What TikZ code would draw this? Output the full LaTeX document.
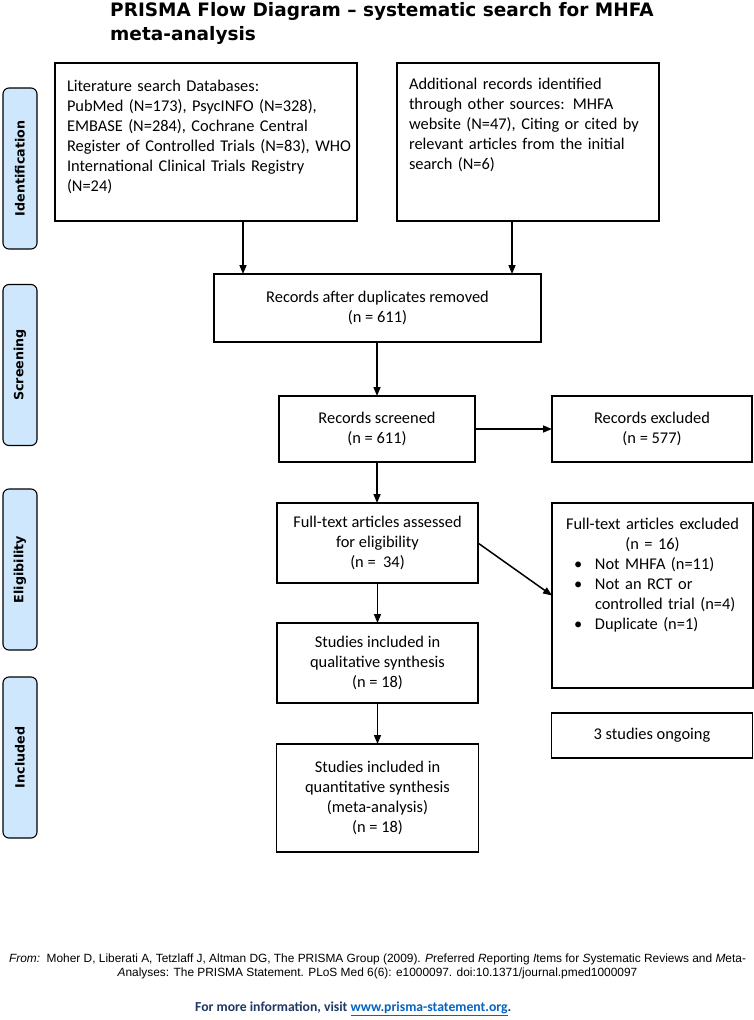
\documentclass[tikz,border=0pt]{standalone}
\usepackage{fontspec}
\setmainfont{Carlito}
\newfontfamily\titlefont{DejaVu Sans}
\newfontfamily\reffont{Liberation Sans}
\usetikzlibrary{arrows.meta}
\definecolor{phasefill}{RGB}{207,231,252}
\definecolor{navytext}{RGB}{31,56,100}
\definecolor{linkblue}{RGB}{5,99,193}
\newcommand{\bodyfont}{\fontsize{16.4}{20}\selectfont}
\begin{document}
\begin{tikzpicture}[x=1pt,y=-1pt,
  box/.style={draw=black, line width=1.3pt, inner sep=0pt, outer sep=0pt, align=center, font=\bodyfont},
  txt/.style={inner sep=0pt, outer sep=0pt, font=\bodyfont},
  phasebox/.style={draw=black, line width=1.1pt, fill=phasefill, rounded corners=6pt, rotate=90,
     minimum width=161pt, minimum height=34pt, inner sep=0pt, outer sep=0pt,
     font=\titlefont\bfseries\fontsize{12.7}{14}\selectfont},
  arr/.style={-{Triangle[length=9pt,width=7pt]}, line width=1.5pt}]
\fill[white] (0,0) rectangle (754,1020);
\useasboundingbox (0,0) rectangle (754,1020);

% title
\node[anchor=base west, inner sep=0pt, font=\titlefont\bfseries\fontsize{18.5}{23}\selectfont] (t1) at (110,16.7) {PRISMA Flow Diagram – systematic search for MHFA};
\node[anchor=base west, inner sep=0pt, font=\titlefont\bfseries\fontsize{18.5}{23}\selectfont] (t2) at (110,40) {meta-analysis};

% phase labels
\node[phasebox] (pid) at (20,168.5) {Identification};
\node[phasebox] (pscr) at (20,365) {Screening};
\node[phasebox] (pel) at (20,569.5) {Eligibility};
\node[phasebox] (pinc) at (20,757.5) {Included};

% identification boxes
\node[box, minimum width=302pt, minimum height=158pt] (db) at (206,142) {};
\node[txt, anchor=north west, text width=288pt, align=left] (dbtxt) at (67,80.5) {Literature search Databases:\\PubMed (N=173), PsycINFO (N=328),\\EMBASE (N=284), Cochrane Central\\Register of Controlled Trials (N=83), WHO\\International Clinical Trials Registry\\(N=24)};
\node[box, minimum width=262pt, minimum height=158pt] (add) at (528,142) {};
\node[txt, anchor=north west, text width=246pt, align=left] (addtxt) at (409,78.5) {Additional records identified\\through other sources: MHFA\\website (N=47), Citing or cited by\\relevant articles from the initial\\search (N=6)};

% flow boxes
\node[box, minimum width=327pt, minimum height=68pt] (dup) at (377.5,308) {Records after duplicates removed\\(n = 611)};
\node[box, minimum width=196pt, minimum height=66pt] (scr) at (377,429) {Records screened\\(n = 611)};
\node[box, minimum width=200pt, minimum height=66pt] (exc) at (652,429) {Records excluded\\(n = 577)};
\node[box, minimum width=201pt, minimum height=80pt] (ft) at (377.5,543) {Full-text articles assessed\\for eligibility\\(n =\ \ 34)};
\node[box, minimum width=201pt, minimum height=185pt] (ftx) at (652.5,595.5) {};
\node[txt, anchor=north, text width=195pt, align=center] (ftxtxt) at (652.5,518) {Full-text articles excluded\\(n = 16)\\
\makebox[157pt][l]{\makebox[21pt][l]{\textbullet}Not MHFA (n=11)}\\
\makebox[157pt][l]{\makebox[21pt][l]{\textbullet}Not an RCT or}\\
\makebox[157pt][l]{\makebox[21pt][l]{}controlled trial (n=4)}\\
\makebox[157pt][l]{\makebox[21pt][l]{\textbullet}Duplicate (n=1)}};
\node[box, minimum width=201pt, minimum height=80pt] (qual) at (377.5,663) {Studies included in\\qualitative synthesis\\(n = 18)};
\node[box, minimum width=201pt, minimum height=45pt] (ongo) at (652,735.5) {3 studies ongoing};
\node[box, minimum width=202pt, minimum height=108pt] (quant) at (377.5,798) {Studies included in\\quantitative synthesis\\(meta-analysis)\\(n = 18)};

% connectors
\coordinate (c1) at (243,0);
\coordinate (c2) at (512,0);
\draw[arr] (db.south -| c1) -- (dup.north -| c1);
\draw[arr] (add.south -| c2) -- (dup.north -| c2);
\draw[arr] (dup.south -| scr.north) -- (scr.north);
\draw[arr] (scr.east) -- (exc.west);
\draw[arr] (scr.south) -- (ft.north -| scr.south);
\draw[arr] (ft.east) -- (ftx.west);
\draw[arr] (ft.south) -- (qual.north);
\draw[arr] (qual.south) -- (quant.north);

% footer
\node[anchor=base, inner sep=0pt, font=\reffont\fontsize{11.9}{12}\selectfont] (ref1) at (377.5,962) {\textit{From:}\ \ Moher D, Liberati A, Tetzlaff J, Altman DG, The PRISMA Group (2009). \textit{P}referred \textit{R}eporting \textit{I}tems for \textit{S}ystematic Reviews and \textit{M}eta-};
\node[anchor=base, inner sep=0pt, font=\reffont\fontsize{11.9}{12}\selectfont] (ref2) at (377.5,976) {\textit{A}nalyses: The PRISMA Statement. PLoS Med 6(6): e1000097. doi:10.1371/journal.pmed1000097};
\node[anchor=base west, inner sep=0pt, font=\bfseries\fontsize{13.7}{15}\selectfont, text=navytext] (more) at (195,1011) {For more information, visit \textcolor{linkblue}{\underline{www.prisma-statement.org}}.};
\end{tikzpicture}
\end{document}
